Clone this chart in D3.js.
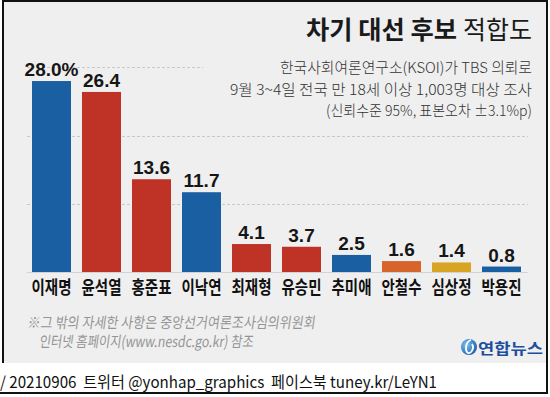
<!DOCTYPE html>
<html>
<head>
<meta charset="utf-8">
<script src="https://cdn.jsdelivr.net/npm/d3@7"></script>
<style>
  html, body { margin: 0; padding: 0; background: #fff; }
  svg { display: block; }
</style>
</head>
<body>
<script>
const names = ["이재명", "윤석열", "홍준표", "이낙연", "최재형", "유승민", "추미애", "안철수", "심상정", "박용진"];
const values = [28.0, 26.4, 13.6, 11.7, 4.1, 3.7, 2.5, 1.6, 1.4, 0.8];
const barColors = ["#1b5fa3", "#bf3226", "#bf3226", "#1b5fa3", "#bf3226", "#bf3226", "#1b5fa3", "#d7642a", "#d8a423", "#1b5fa3"];
const gridTicks = [10, 20, 30];

const subtitleLines = [
  "한국사회여론연구소(KSOI)가 TBS 의뢰로",
  "9월 3~4일 전국 만 18세 이상 1,003명 대상 조사",
  "(신뢰수준 95%, 표본오차 ±3.1%p)"
];
const noteLines = [
  "※그 밖의 자세한 사항은 중앙선거여론조사심의위원회",
  "인터넷 홈페이지(www.nesdc.go.kr) 참조"
];
const footer = "/ 20210906  트위터 @yonhap_graphics  페이스북 tuney.kr/LeYN1";

const width = 550, height = 397;
const krFont = "'Noto Sans CJK KR', 'Noto Sans', sans-serif";
const numFont = "'Liberation Sans', Arial, sans-serif";

const svg = d3.select("body").append("svg")
    .attr("width", width)
    .attr("height", height)
    .attr("viewBox", `0 0 ${width} ${height}`);

// panel + frame
svg.append("rect").attr("x", 0).attr("y", 0).attr("width", width).attr("height", height).attr("fill", "#fff");
svg.append("rect").attr("x", 3).attr("y", 1).attr("width", 544).attr("height", 362).attr("fill", "#efefef");

const frame = svg.append("g").attr("stroke", "#111").attr("stroke-width", 2);
frame.append("line").attr("x1", 3).attr("x2", 548).attr("y1", 1).attr("y2", 1);
frame.append("line").attr("x1", 3).attr("x2", 3).attr("y1", 0).attr("y2", 363);
frame.append("line").attr("x1", 547).attr("x2", 547).attr("y1", 0).attr("y2", 394);
frame.append("line").attr("x1", 0).attr("x2", 548).attr("y1", 393).attr("y2", 393);

const x = d3.scaleBand()
    .domain(names)
    .range([26.5, 526.5])
    .paddingInner(0.22)
    .paddingOuter(0.11);

const y = d3.scaleLinear()
    .domain([0, 30])
    .range([272, 67.4]);

// dashed grid
svg.append("g")
    .selectAll("line")
    .data(gridTicks)
    .join("line")
    .attr("x1", 27)
    .attr("x2", 528)
    .attr("y1", d => Math.round(y(d)) + 0.5)
    .attr("y2", d => Math.round(y(d)) + 0.5)
    .attr("stroke", "#c9c9c9")
    .attr("stroke-dasharray", "3,2");

// title block hides the top gridline on the right
svg.append("rect").attr("x", 203).attr("y", 3).attr("width", 342).attr("height", 122).attr("fill", "#efefef");

svg.append("line")
    .attr("x1", 27).attr("x2", 528)
    .attr("y1", y(0) + 0.5).attr("y2", y(0) + 0.5)
    .attr("stroke", "#d2d2d2");

// bars
svg.append("g")
    .selectAll("rect")
    .data(values)
    .join("rect")
    .attr("x", (d, i) => x(names[i]))
    .attr("y", d => y(d))
    .attr("width", x.bandwidth())
    .attr("height", d => y(0) - y(d))
    .attr("fill", (d, i) => barColors[i]);

// value labels
svg.append("g")
    .selectAll("text")
    .data(values)
    .join("text")
    .attr("x", (d, i) => x(names[i]) + x.bandwidth() / 2)
    .attr("y", d => y(d) - 5)
    .attr("text-anchor", "middle")
    .attr("font-family", numFont)
    .attr("font-weight", "bold")
    .attr("font-size", 19)
    .attr("fill", "#161616")
    .text((d, i) => i === 0 ? d.toFixed(1) + "%" : d.toFixed(1));

// category labels
svg.append("g")
    .selectAll("text")
    .data(names)
    .join("text")
    .attr("x", d => x(d) + x.bandwidth() / 2)
    .attr("y", 294)
    .attr("text-anchor", "middle")
    .attr("font-family", krFont)
    .attr("font-weight", "bold")
    .attr("font-size", 18)
    .attr("fill", "#111")
    .attr("textLength", 40)
    .attr("lengthAdjust", "spacingAndGlyphs")
    .text(d => d);

// title
svg.append("text")
    .attr("x", 306).attr("y", 39)
    .attr("font-family", krFont).attr("font-weight", "bold").attr("font-size", 25)
    .attr("fill", "#1a1a1a")
    .attr("textLength", 151).attr("lengthAdjust", "spacingAndGlyphs")
    .text("차기 대선 후보");
svg.append("text")
    .attr("x", 463).attr("y", 39)
    .attr("font-family", krFont).attr("font-weight", 400).attr("font-size", 25)
    .attr("fill", "#1a1a1a")
    .attr("textLength", 69).attr("lengthAdjust", "spacingAndGlyphs")
    .text("적합도");

const subStarts = [280, 230, 326];
const subBase = [73, 95, 116];
svg.append("g")
    .selectAll("text")
    .data(subtitleLines)
    .join("text")
    .attr("x", (d, i) => subStarts[i])
    .attr("y", (d, i) => subBase[i])
    .attr("font-family", krFont)
    .attr("font-weight", 300)
    .attr("font-size", 15)
    .attr("fill", "#333")
    .attr("textLength", (d, i) => 532 - subStarts[i])
    .attr("lengthAdjust", "spacingAndGlyphs")
    .text(d => d);

// footnote
const noteX = [27, 39], noteEnd = [315, 253], noteY = [328, 347];
svg.append("g")
    .selectAll("text")
    .data(noteLines)
    .join("text")
    .attr("x", (d, i) => noteX[i])
    .attr("y", (d, i) => noteY[i])
    .attr("font-family", krFont)
    .attr("font-weight", 400)
    .attr("font-size", 15)
    .attr("fill", "#959595")
    .attr("transform", (d, i) => `translate(${noteY[i] * Math.tan(8 * Math.PI / 180)},0) skewX(-8)`)
    .attr("textLength", (d, i) => noteEnd[i] - noteX[i])
    .attr("lengthAdjust", "spacingAndGlyphs")
    .text(d => d);

// logo
const defs = svg.append("defs");
const grad = defs.append("radialGradient").attr("id", "ball").attr("cx", "35%").attr("cy", "35%").attr("r", "70%");
grad.append("stop").attr("offset", "0%").attr("stop-color", "#7fc4f0");
grad.append("stop").attr("offset", "100%").attr("stop-color", "#1c5fb0");
svg.append("circle").attr("cx", 469).attr("cy", 347).attr("r", 8).attr("fill", "url(#ball)");
svg.append("path")
    .attr("d", "M471,340 C465,342 465,351 468,353 C471,354 475,348 472,344")
    .attr("fill", "none").attr("stroke", "#fff").attr("stroke-width", 1.8);
svg.append("text")
    .attr("x", 478).attr("y", 354)
    .attr("font-family", krFont).attr("font-weight", "bold").attr("font-size", 15)
    .attr("fill", "#1d4e9e")
    .attr("textLength", 65).attr("lengthAdjust", "spacingAndGlyphs")
    .text("연합뉴스");

// footer
svg.append("text")
    .attr("x", 0).attr("y", 388)
    .attr("font-family", krFont).attr("font-weight", 400).attr("font-size", 16)
    .attr("fill", "#111")
    .attr("textLength", 437).attr("lengthAdjust", "spacingAndGlyphs")
    .style("white-space", "pre")
    .text(footer);
</script>
</body>
</html>
